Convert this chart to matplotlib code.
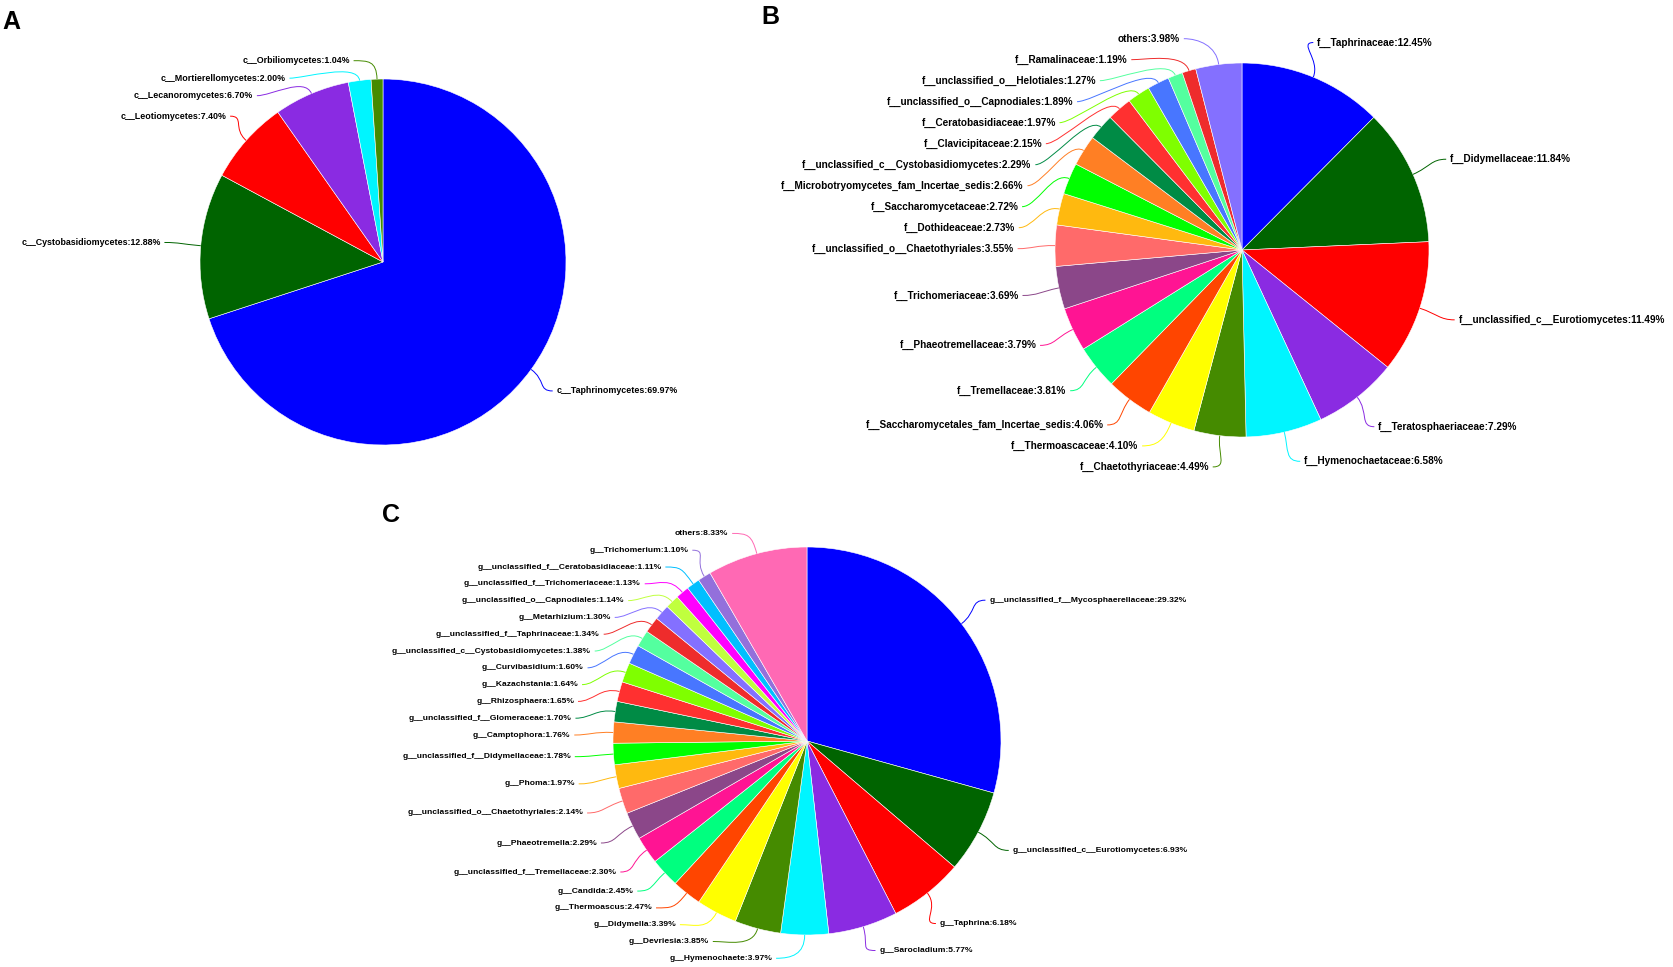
import numpy as np
import matplotlib.pyplot as plt
from matplotlib.path import Path
from matplotlib.patches import PathPatch

plt.rcParams['font.family'] = ['Liberation Sans', 'DejaVu Sans']

# A: class level
class_names = ['c__Taphrinomycetes', 'c__Cystobasidiomycetes', 'c__Leotiomycetes',
               'c__Lecanoromycetes', 'c__Mortierellomycetes', 'c__Orbiliomycetes']
class_pct = [69.97, 12.88, 7.40, 6.70, 2.00, 1.04]

# B: family level
family_names = ['f__Taphrinaceae', 'f__Didymellaceae', 'f__unclassified_c__Eurotiomycetes',
                'f__Teratosphaeriaceae', 'f__Hymenochaetaceae', 'f__Chaetothyriaceae',
                'f__Thermoascaceae', 'f__Saccharomycetales_fam_Incertae_sedis', 'f__Tremellaceae',
                'f__Phaeotremellaceae', 'f__Trichomeriaceae', 'f__unclassified_o__Chaetothyriales',
                'f__Dothideaceae', 'f__Saccharomycetaceae', 'f__Microbotryomycetes_fam_Incertae_sedis',
                'f__unclassified_c__Cystobasidiomycetes', 'f__Clavicipitaceae', 'f__Ceratobasidiaceae',
                'f__unclassified_o__Capnodiales', 'f__unclassified_o__Helotiales', 'f__Ramalinaceae',
                'others']
family_pct = [12.45, 11.84, 11.49, 7.29, 6.58, 4.49, 4.10, 4.06, 3.81, 3.79, 3.69, 3.55,
              2.73, 2.72, 2.66, 2.29, 2.15, 1.97, 1.89, 1.27, 1.19, 3.98]

# C: genus level
genus_names = ['g__unclassified_f__Mycosphaerellaceae', 'g__unclassified_c__Eurotiomycetes',
               'g__Taphrina', 'g__Sarocladium', 'g__Hymenochaete', 'g__Devriesia', 'g__Didymella',
               'g__Thermoascus', 'g__Candida', 'g__unclassified_f__Tremellaceae', 'g__Phaeotremella',
               'g__unclassified_o__Chaetothyriales', 'g__Phoma', 'g__unclassified_f__Didymellaceae',
               'g__Camptophora', 'g__unclassified_f__Glomeraceae', 'g__Rhizosphaera',
               'g__Kazachstania', 'g__Curvibasidium', 'g__unclassified_c__Cystobasidiomycetes',
               'g__unclassified_f__Taphrinaceae', 'g__Metarhizium', 'g__unclassified_o__Capnodiales',
               'g__unclassified_f__Trichomeriaceae', 'g__unclassified_f__Ceratobasidiaceae',
               'g__Trichomerium', 'others']
genus_pct = [29.32, 6.93, 6.18, 5.77, 3.97, 3.85, 3.39, 2.47, 2.45, 2.30, 2.29, 2.14, 1.97,
             1.78, 1.76, 1.70, 1.65, 1.64, 1.60, 1.38, 1.34, 1.30, 1.14, 1.13, 1.11, 1.10, 8.33]

palette = ['#0000FF', '#006400', '#FF0000', '#8A2BE2', '#00F5FF', '#458B00', '#FFFF00',
           '#FF4500', '#00FF7F', '#FF1493', '#8B4789', '#FF6A6A', '#FFB90F', '#00FF00',
           '#FF7F24', '#008B45', '#FF3030', '#7FFF00', '#4876FF', '#54FF9F', '#EE2C2C',
           '#8470FF', '#C0FF3E', '#FF00FF', '#00BFFF', '#9370DB', '#FF69B4']

W, H = 1673, 967
fig = plt.figure(figsize=(W / 100, H / 100), dpi=100)


def spread(ys, gap, lo, hi):
    order = np.argsort(-ys)
    y = np.clip(ys[order], lo, hi)
    for _ in range(600):
        for i in range(len(y) - 1):
            d = y[i] - y[i + 1]
            if d < gap:
                s = (gap - d) / 2
                y[i] += s
                y[i + 1] -= s
        y = np.clip(y, lo, hi)
    out = np.empty_like(y)
    out[order] = y
    return out


def draw_panel(cx, cy, r, names, pct, fs, gap, b, lo, hi, lo_right):
    half = 2.6 * r
    ax = fig.add_axes([(cx - half) / W, 1 - (cy + half) / H, 2 * half / W, 2 * half / H])
    wedges, _ = ax.pie(pct, colors=palette[:len(pct)], startangle=90, counterclock=False,
                       wedgeprops=dict(edgecolor='white', linewidth=0.4))
    ax.set_xlim(-half / r, half / r)
    ax.set_ylim(-half / r, half / r)
    ax.set_axis_off()

    mids = np.deg2rad([(w.theta1 + w.theta2) / 2 for w in wedges])
    cx_, sy = np.cos(mids), np.sin(mids)
    left = cx_ < 0
    ly = np.zeros(len(mids))
    for side, low in ((left, lo), (~left, lo_right)):
        idx = np.where(side)[0]
        if len(idx):
            ly[idx] = spread(1.2 * sy[idx], gap / r, low, hi)
    lx = np.where(left, -1, 1) * 1.2 * np.sqrt(np.clip(1 - (ly / b) ** 2, 0, None))

    for i, w in enumerate(wedges):
        sgn = -1 if left[i] else 1
        p1 = (cx_[i], sy[i])
        p2 = (1.1 * cx_[i], 1.1 * sy[i])
        c2 = (lx[i] - sgn * 0.08, ly[i])
        path = Path([p1, p2, c2, (lx[i], ly[i])],
                    [Path.MOVETO, Path.CURVE4, Path.CURVE4, Path.CURVE4])
        ax.add_patch(PathPatch(path, fill=False, edgecolor=w.get_facecolor(), lw=0.7,
                               clip_on=False))
        ax.text(lx[i] + sgn * 0.02, ly[i], f'{names[i]}:{pct[i]:.2f}%',
                ha='left' if sgn > 0 else 'right', va='center',
                fontsize=fs, fontweight='bold', color='black')


draw_panel(383, 262, 183, class_names, class_pct, 6.4, 17.5, 1.11, -1.10, 1.10, -1.10)
draw_panel(1242, 250, 187, family_names, family_pct, 7.2, 21, 1.17, -1.16, 1.13, -1.13)
draw_panel(807, 741, 194, genus_names, genus_pct, 6.1, 16.8, 1.13, -1.12, 1.07, -1.08)

for letter, x, y in [('A', 2, 29), ('B', 761, 24), ('C', 382, 522)]:
    fig.text(x / W, 1 - y / H, letter, fontsize=18, fontweight='bold', va='baseline')

fig.savefig('out.png', dpi=100)
